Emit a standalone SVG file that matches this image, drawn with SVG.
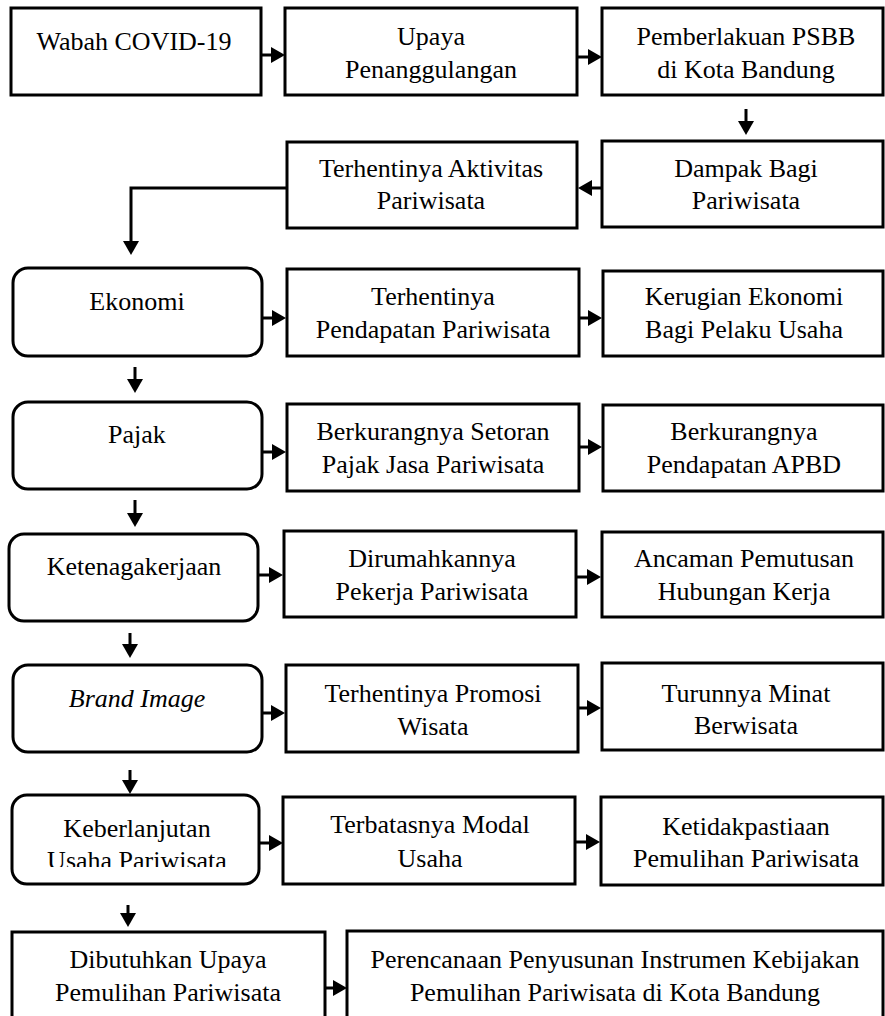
<svg xmlns="http://www.w3.org/2000/svg" width="885" height="1016" viewBox="0 0 885 1016">
<style>
.b{fill:#fff;stroke:#000;stroke-width:3}
.t{font-family:"Liberation Serif","Times New Roman",serif;font-size:26px;fill:#000;text-anchor:middle}
.c{fill:none;stroke:#000;stroke-width:3;marker-end:url(#ah)}
</style>
<defs>
<marker id="ah" viewBox="0 0 14 16" refX="4" refY="8" markerWidth="14" markerHeight="16" markerUnits="userSpaceOnUse" orient="auto">
<path d="M0,0 L14,8 L0,16 z" fill="#000"/>
</marker>
<clipPath id="clipK"><rect x="12" y="795" width="247" height="72"/></clipPath>
</defs>
<rect width="885" height="1016" fill="#fff"/>

<g id="n-wabah"><rect class="b" x="11" y="8" width="250" height="87"/><text class="t" x="134" y="50">Wabah COVID-19</text></g>
<g id="n-upaya"><rect class="b" x="285" y="8" width="292" height="87"/><text class="t" x="431" y="45">Upaya</text><text class="t" x="431" y="78">Penanggulangan</text></g>
<g id="n-psbb"><rect class="b" x="602" y="8" width="281" height="87"/><text class="t" x="746" y="45">Pemberlakuan PSBB</text><text class="t" x="746" y="78">di Kota Bandung</text></g>
<g id="n-dampak"><rect class="b" x="602" y="141" width="281" height="86"/><text class="t" x="746" y="177">Dampak Bagi</text><text class="t" x="746" y="209">Pariwisata</text></g>
<g id="n-aktivitas"><rect class="b" x="287" y="142" width="290" height="86"/><text class="t" x="431" y="177">Terhentinya Aktivitas</text><text class="t" x="431" y="209">Pariwisata</text></g>

<g id="n-ekonomi"><rect class="b" x="13" y="268" width="249" height="88" rx="15"/><text class="t" x="137" y="310">Ekonomi</text></g>
<g id="n-pendapatan"><rect class="b" x="287" y="269" width="292" height="87"/><text class="t" x="433" y="305">Terhentinya</text><text class="t" x="433" y="338">Pendapatan Pariwisata</text></g>
<g id="n-kerugian"><rect class="b" x="603" y="271" width="280" height="85"/><text class="t" x="744" y="305">Kerugian Ekonomi</text><text class="t" x="744" y="338">Bagi Pelaku Usaha</text></g>

<g id="n-pajak"><rect class="b" x="13" y="402" width="249" height="87" rx="15"/><text class="t" x="137" y="443">Pajak</text></g>
<g id="n-setoran"><rect class="b" x="287" y="404" width="292" height="87"/><text class="t" x="433" y="440">Berkurangnya Setoran</text><text class="t" x="433" y="473">Pajak Jasa Pariwisata</text></g>
<g id="n-apbd"><rect class="b" x="603" y="405" width="280" height="86"/><text class="t" x="744" y="440">Berkurangnya</text><text class="t" x="744" y="473">Pendapatan APBD</text></g>

<g id="n-tenaga"><rect class="b" x="9" y="534" width="249" height="87" rx="15"/><text class="t" x="134" y="575">Ketenagakerjaan</text></g>
<g id="n-dirumahkan"><rect class="b" x="284" y="531" width="292" height="86"/><text class="t" x="432" y="567">Dirumahkannya</text><text class="t" x="432" y="600">Pekerja Pariwisata</text></g>
<g id="n-ancaman"><rect class="b" x="602" y="532" width="281" height="85"/><text class="t" x="744" y="567">Ancaman Pemutusan</text><text class="t" x="744" y="600">Hubungan Kerja</text></g>

<g id="n-brand"><rect class="b" x="13" y="665" width="249" height="87" rx="15"/><text class="t" x="137" y="707" font-style="italic">Brand Image</text></g>
<g id="n-promosi"><rect class="b" x="286" y="665" width="292" height="87"/><text class="t" x="433" y="702">Terhentinya Promosi</text><text class="t" x="433" y="735">Wisata</text></g>
<g id="n-minat"><rect class="b" x="602" y="663" width="281" height="87"/><text class="t" x="746" y="702">Turunnya Minat</text><text class="t" x="746" y="734">Berwisata</text></g>

<g id="n-keberlanjutan"><rect class="b" x="12" y="795" width="247" height="89" rx="15"/><g clip-path="url(#clipK)"><text class="t" x="137" y="837">Keberlanjutan</text><text class="t" x="137" y="869">Usaha Pariwisata</text></g></g>
<g id="n-modal"><rect class="b" x="283" y="797" width="292" height="87"/><text class="t" x="430" y="833">Terbatasnya Modal</text><text class="t" x="430" y="867">Usaha</text></g>
<g id="n-ketidak"><rect class="b" x="601" y="797" width="282" height="88"/><text class="t" x="746" y="835">Ketidakpastiaan</text><text class="t" x="746" y="867">Pemulihan Pariwisata</text></g>

<g id="n-dibutuhkan"><rect class="b" x="12" y="932" width="313" height="90"/><text class="t" x="168" y="968">Dibutuhkan Upaya</text><text class="t" x="168" y="1001">Pemulihan Pariwisata</text></g>
<g id="n-perencanaan"><rect class="b" x="347" y="931" width="536" height="91"/><text class="t" x="615" y="968">Perencanaan Penyusunan Instrumen Kebijakan</text><text class="t" x="615" y="1001">Pemulihan Pariwisata di Kota Bandung</text></g>

<g id="connectors">
<path class="c" d="M261,55 H275"/>
<path class="c" d="M577,57 H592"/>
<path class="c" d="M746,109 V125"/>
<path class="c" d="M602,188 H588"/>
<path class="c" d="M287,188 H131 V245"/>
<path class="c" d="M262,318 H276"/>
<path class="c" d="M579,318 H592"/>
<path class="c" d="M135,367 V383"/>
<path class="c" d="M262,452 H276"/>
<path class="c" d="M579,447 H592"/>
<path class="c" d="M135,500 V517"/>
<path class="c" d="M258,575 H273"/>
<path class="c" d="M576,577 H591"/>
<path class="c" d="M130,633 V648"/>
<path class="c" d="M262,713 H275"/>
<path class="c" d="M578,708 H591"/>
<path class="c" d="M130,770 V784"/>
<path class="c" d="M259,843 H273"/>
<path class="c" d="M575,842 H590"/>
<path class="c" d="M128,905 V917"/>
<path class="c" d="M325,988 H337"/>
</g>
</svg>
